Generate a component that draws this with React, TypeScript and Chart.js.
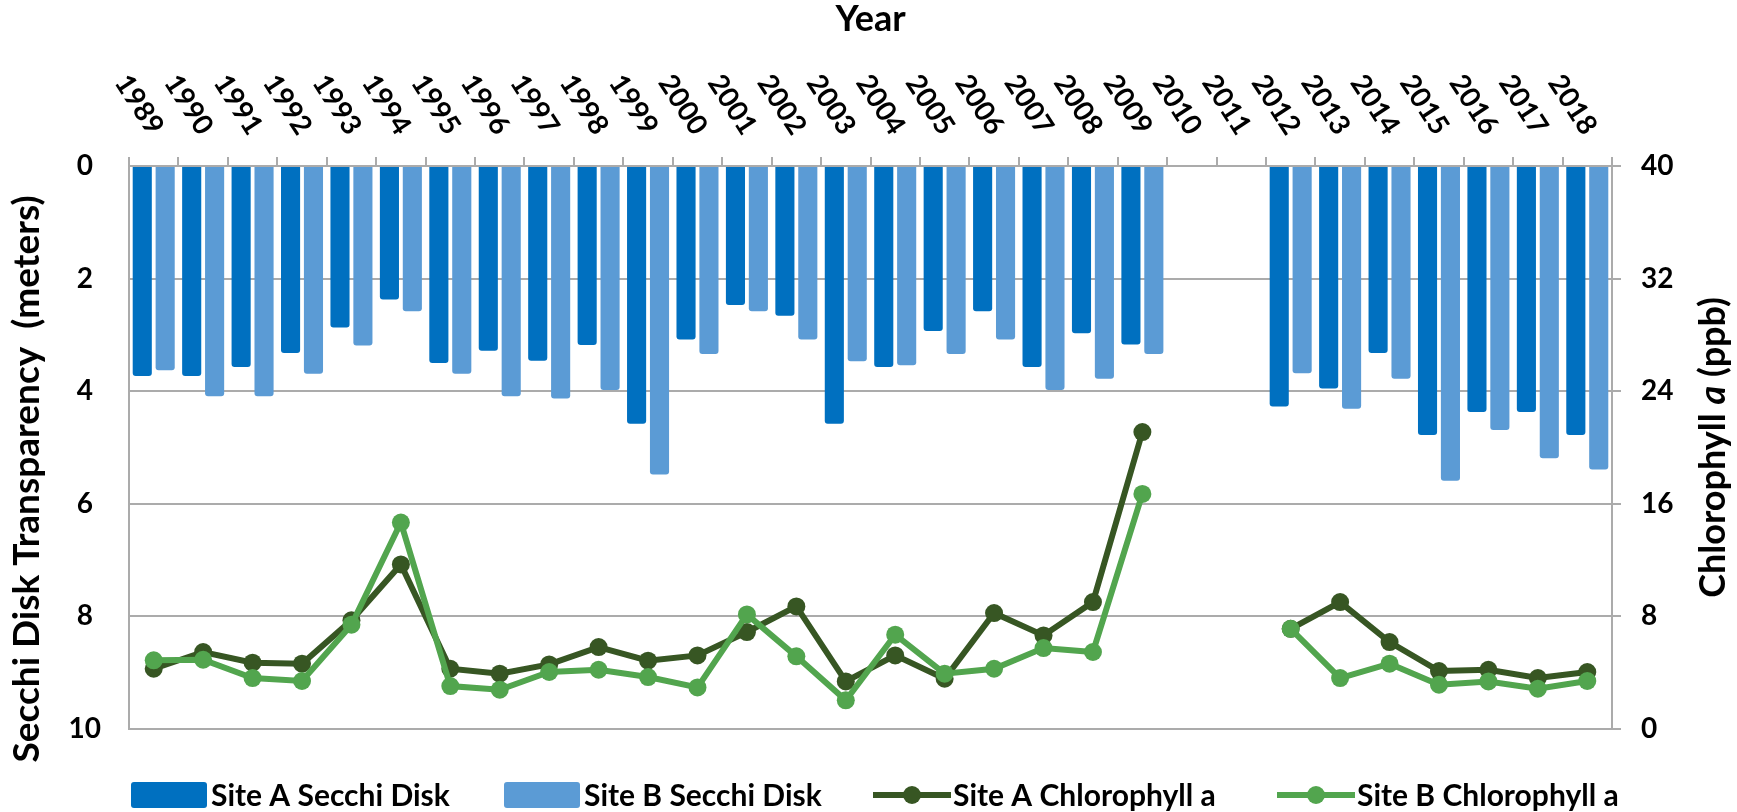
import React, { useEffect, useRef } from 'react';
import { Chart, registerables } from 'chart.js';

Chart.register(...registerables);

const years = [
  '1989', '1990', '1991', '1992', '1993', '1994', '1995', '1996', '1997', '1998',
  '1999', '2000', '2001', '2002', '2003', '2004', '2005', '2006', '2007', '2008',
  '2009', '2010', '2011', '2012', '2013', '2014', '2015', '2016', '2017', '2018',
];

const siteASecchi = [
  3.73, 3.73, 3.57, 3.32, 2.87, 2.37, 3.5, 3.28, 3.46, 3.18,
  4.58, 3.08, 2.47, 2.66, 4.58, 3.57, 2.93, 2.58, 3.57, 2.97,
  3.17, null, null, 4.27, 3.95, 3.32, 4.78, 4.37, 4.37, 4.78,
];

const siteBSecchi = [
  3.63, 4.09, 4.09, 3.69, 3.19, 2.58, 3.69, 4.09, 4.13, 3.98,
  5.48, 3.34, 2.58, 3.08, 3.47, 3.54, 3.34, 3.08, 3.98, 3.78,
  3.34, null, null, 3.68, 4.31, 3.78, 5.59, 4.69, 5.19, 5.39,
];

const siteAChl = [
  4.28, 5.47, 4.71, 4.64, 7.72, 11.69, 4.28, 3.93, 4.59, 5.82,
  4.85, 5.23, 6.89, 8.71, 3.38, 5.23, 3.57, 8.24, 6.65, 9.02,
  21.1, null, null, 7.12, 9.02, 6.18, 4.12, 4.21, 3.62, 4.05,
];

const siteBChl = [
  4.88, 4.92, 3.62, 3.41, 7.41, 14.67, 3.05, 2.79, 4.05, 4.21,
  3.69, 2.95, 8.14, 5.16, 2.04, 6.7, 3.93, 4.28, 5.75, 5.47,
  16.7, null, null, 7.12, 3.62, 4.64, 3.15, 3.38, 2.86, 3.41,
];

const secchiRange = [0, 10, 2];
const chlRange = [0, 40, 8];

const seriesLabels = ['Site A Secchi Disk', 'Site B Secchi Disk', 'Site A Chlorophyll a', 'Site B Chlorophyll a'];
const seriesColors = ['#0070C0', '#5B9BD5', '#375623', '#52A54E'];

const GRID = '#ABABAB';
const FONT = 'Lato, "Noto Sans", sans-serif';

export default function App() {
  const ref = useRef<HTMLCanvasElement>(null);

  useEffect(() => {
    const canvas = ref.current;
    if (!canvas) return;

    const textPlugin = {
      id: 'customText',
      afterDraw(chart: any) {
        const ctx = chart.ctx as CanvasRenderingContext2D;
        const xs = chart.scales.x;
        const area = chart.chartArea;
        ctx.save();
        ctx.fillStyle = '#000';

        // rotated year labels on top axis
        ctx.font = `bold 28px ${FONT}`;
        ctx.textAlign = 'right';
        ctx.textBaseline = 'middle';
        years.forEach((yr, i) => {
          const px = xs.getPixelForValue(i);
          ctx.save();
          ctx.translate(px + 3, xs.bottom - 34);
          ctx.rotate((57 * Math.PI) / 180);
          ctx.fillText(yr, 0, 0);
          ctx.restore();
        });

        // Top title
        ctx.font = `bold 36px ${FONT}`;
        ctx.textAlign = 'center';
        ctx.textBaseline = 'middle';
        ctx.fillText('Year', (area.left + area.right) / 2, 19);

        // Left title
        ctx.save();
        ctx.translate(27, 479);
        ctx.rotate(-Math.PI / 2);
        ctx.font = `bold 37px ${FONT}`;
        ctx.textAlign = 'center';
        ctx.fillText('Secchi Disk Transparency  (meters)', 0, 0);
        ctx.restore();

        // Right title with italic a
        ctx.save();
        ctx.translate(1713, (area.top + area.bottom) / 2);
        ctx.rotate(-Math.PI / 2);
        ctx.textAlign = 'left';
        const parts: [string, string][] = [
          ['Chlorophyll ', `bold 36px ${FONT}`],
          ['a', `italic bold 36px ${FONT}`],
          [' (ppb)', `bold 36px ${FONT}`],
        ];
        let total = 0;
        parts.forEach(([t, f]) => {
          ctx.font = f;
          total += ctx.measureText(t).width;
        });
        let cx = -total / 2;
        parts.forEach(([t, f]) => {
          ctx.font = f;
          ctx.fillText(t, cx, 0);
          cx += ctx.measureText(t).width;
        });
        ctx.restore();

        // Legend
        const lx = [131, 504, 873, 1277];
        const ly = 795;
        ctx.font = `bold 30px ${FONT}`;
        ctx.textAlign = 'left';
        ctx.textBaseline = 'middle';
        chart.data.datasets.forEach((ds: any, i: number) => {
          const x0 = lx[i];
          if (ds.type === 'bar') {
            ctx.fillStyle = ds.backgroundColor;
            ctx.beginPath();
            (ctx as any).roundRect(x0, ly - 13, 76, 26, 3);
            ctx.fill();
          } else {
            ctx.strokeStyle = ds.borderColor;
            ctx.lineWidth = 6;
            ctx.beginPath();
            ctx.moveTo(x0, ly);
            ctx.lineTo(x0 + 78, ly);
            ctx.stroke();
            ctx.fillStyle = ds.borderColor;
            ctx.beginPath();
            ctx.arc(x0 + 39, ly, 9, 0, Math.PI * 2);
            ctx.fill();
          }
          ctx.fillStyle = '#000';
          ctx.fillText(ds.label, x0 + 80, ly + 1);
        });
        ctx.restore();
      },
    };

    const chart = new Chart(canvas, {
      type: 'bar',
      data: {
        labels: years,
        datasets: [
          {
            type: 'bar',
            label: seriesLabels[0],
            data: siteASecchi,
            backgroundColor: seriesColors[0],
            yAxisID: 'y',
            order: 2,
            barPercentage: 0.834,
            categoryPercentage: 0.927,
            borderRadius: 3,
          },
          {
            type: 'bar',
            label: seriesLabels[1],
            data: siteBSecchi,
            backgroundColor: seriesColors[1],
            yAxisID: 'y',
            order: 2,
            barPercentage: 0.834,
            categoryPercentage: 0.927,
            borderRadius: 3,
          },
          {
            type: 'line',
            label: seriesLabels[2],
            data: siteAChl,
            borderColor: seriesColors[2],
            backgroundColor: seriesColors[2],
            pointBackgroundColor: seriesColors[2],
            pointBorderColor: seriesColors[2],
            borderWidth: 6,
            pointRadius: 9,
            pointBorderWidth: 0,
            yAxisID: 'y1',
            order: 1,
            spanGaps: false,
            clip: false,
          },
          {
            type: 'line',
            label: seriesLabels[3],
            data: siteBChl,
            borderColor: seriesColors[3],
            backgroundColor: seriesColors[3],
            pointBackgroundColor: seriesColors[3],
            pointBorderColor: seriesColors[3],
            borderWidth: 6,
            pointRadius: 9,
            pointBorderWidth: 0,
            yAxisID: 'y1',
            order: 0,
            spanGaps: false,
            clip: false,
          },
        ] as any,
      },
      options: {
        responsive: false,
        animation: false,
        events: [],
        layout: { padding: { left: 0, right: 0, top: 0, bottom: 83 } },
        plugins: {
          legend: { display: false },
          tooltip: { enabled: false },
          title: { display: false },
        },
        scales: {
          x: {
            type: 'category',
            position: 'top',
            offset: true,
            grid: {
              drawOnChartArea: false,
              drawTicks: true,
              tickLength: 9,
              color: GRID,
              lineWidth: 2,
              offset: true,
            },
            border: { display: true, color: GRID, width: 2 },
            ticks: { display: false, autoSkip: false },
            afterFit: (s: any) => {
              s.height = 166;
            },
          },
          y: {
            position: 'left',
            reverse: true,
            min: secchiRange[0],
            max: secchiRange[1],
            ticks: {
              stepSize: secchiRange[2],
              color: '#000',
              font: { family: FONT, size: 28, weight: 'bold' },
              padding: 28,
              crossAlign: 'center',
            },
            grid: { color: GRID, lineWidth: 2, drawTicks: false },
            border: { display: true, color: GRID, width: 2 },
            afterFit: (s: any) => {
              s.width = 129;
            },
          },
          y1: {
            position: 'right',
            min: chlRange[0],
            max: chlRange[1],
            ticks: {
              stepSize: chlRange[2],
              color: '#000',
              font: { family: FONT, size: 28, weight: 'bold' },
              padding: 20,
            },
            grid: { drawOnChartArea: false, color: GRID, lineWidth: 2, drawTicks: true, tickLength: 9 },
            border: { display: true, color: GRID, width: 2 },
            afterFit: (s: any) => {
              s.width = 1737 - 1612;
            },
          },
        },
      } as any,
      plugins: [textPlugin],
    });

    return () => {
      chart.destroy();
    };
  }, []);

  return (
    <div style={{ position: 'absolute', left: 0, top: 0, width: 1737, height: 812, background: '#fff' }}>
      <canvas ref={ref} width={1737} height={812} style={{ width: 1737, height: 812, display: 'block' }} />
    </div>
  );
}
